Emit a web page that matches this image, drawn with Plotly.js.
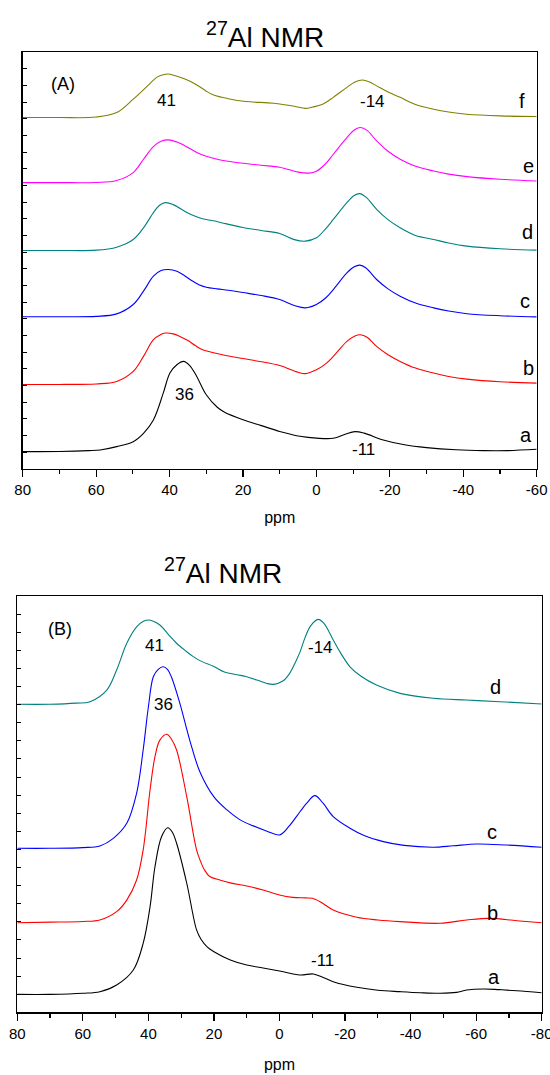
<!DOCTYPE html>
<html>
<head>
<meta charset="utf-8">
<script src="https://cdn.plot.ly/plotly-3.0.1.min.js"></script>
<style>html,body{margin:0;padding:0;background:#fff;}#chart{width:550px;height:1075px;}</style>
</head>
<body>
<div id="chart"></div>
<script>
// ---------- Panel A data (ppm, stacked intensity) ----------
const A_a_ppm = [80,70,62,58.9,54.4,49.9,47.1,44.4,41.7,39.9,38,36.2,34.5,32.6,30,27,25,20,15,10,7,4.5,0,-4.6,-8,-10.5,-13,-18.2,-24,-30,-38,-45.5,-52,-60];
const A_a_val = [1.04,1.05,1.1,1.14,1.34,1.64,2.14,2.94,4.56,5.76,6.25,6.45,6.2,5.55,4.45,3.7,3.4,2.95,2.6,2.25,2.08,1.96,1.85,1.84,2.1,2.24,2.15,1.74,1.45,1.28,1.15,1.1,1.1,1.18];

const A_b_ppm = [80,70,60,54.4,49.9,47.1,44.4,42.5,41.2,39,37.2,35,33,31,28,25,20,15,10,5,3,0,-2.5,-4.6,-8.3,-10.5,-12,-13.8,-16.4,-19.5,-22.8,-27,-31.9,-36,-41,-50,-60];
const A_b_val = [5.07,5.07,5.1,5.25,5.85,6.75,7.75,8.05,8.15,8.1,7.95,7.7,7.4,7.15,6.97,6.82,6.62,6.43,6.2,5.8,5.72,5.95,6.3,6.75,7.65,7.98,8.05,7.9,7.35,6.85,6.45,6.05,5.75,5.55,5.39,5.23,5.15];

const A_c_ppm = [80,70,60,54.4,49.9,47.1,44.4,42.3,40.3,38,36,34,32,30,27,24,20,15,10,6,3,0,-2.5,-4.6,-8.3,-10.3,-11.8,-13.5,-16.4,-19.5,-22.8,-27,-31.9,-36,-41,-50,-60];
const A_c_val = [9.13,9.13,9.15,9.3,9.86,10.66,11.56,11.9,11.96,11.85,11.6,11.3,11.05,10.9,10.8,10.72,10.58,10.4,10.16,9.8,9.66,9.86,10.25,10.76,11.76,12.12,12.22,12.05,11.36,10.8,10.36,9.95,9.66,9.47,9.31,9.19,9.12];

const A_d_ppm = [80,70,60,54.4,49.9,47.1,44.4,42.8,41.2,39,37,35,33,31,28,25,20,15,10,6,3,0,-2.5,-4.6,-8.3,-10.3,-11.8,-13.5,-16.4,-19.5,-22.8,-27,-31.9,-36,-41,-50,-60];
const A_d_val = [13.1,13.1,13.12,13.3,13.76,14.46,15.37,15.8,15.97,15.85,15.6,15.35,15.15,15.0,14.88,14.72,14.48,14.3,14.12,13.75,13.66,13.86,14.4,14.96,15.97,16.4,16.51,16.3,15.57,14.95,14.46,14.0,13.76,13.55,13.36,13.2,13.12];

const A_e_ppm = [80,70,60,54.4,49.9,47.1,44.4,42.3,40.3,38,36,34,32,30,27,24,20,15,10,5,2,0,-2.5,-4.6,-8.3,-10.5,-12,-13.8,-16.4,-19.5,-22.8,-27,-31.9,-36,-41,-50,-60];
const A_e_val = [17.17,17.17,17.18,17.3,17.77,18.57,19.33,19.65,19.73,19.6,19.4,19.15,18.92,18.75,18.57,18.45,18.33,18.21,18.09,17.8,17.74,17.85,18.3,18.87,19.87,20.35,20.47,20.3,19.67,19.05,18.57,18.15,17.87,17.68,17.53,17.37,17.27];

const A_f_ppm = [80,70,60,54.4,49.9,46,43.5,41.5,40.3,38,36,34,32,30,28,24,19.2,11.6,6,3,1,-1.5,-4.6,-8.3,-10.5,-12.5,-14.5,-16.4,-19.5,-22.8,-27,-31.9,-36,-41,-50,-60];
const A_f_val = [21.07,21.07,21.1,21.37,22.17,22.97,23.48,23.65,23.68,23.55,23.4,23.2,22.95,22.65,22.42,22.2,22.03,21.93,21.75,21.62,21.7,21.85,22.28,22.88,23.2,23.32,23.2,22.97,22.6,22.28,21.85,21.57,21.4,21.27,21.17,21.13];

// ---------- Panel B data ----------
const B_a_ppm = [80,70,60,54.8,49.7,44.6,41.6,39.5,38,36,34.1,32.7,31.4,28.3,25.3,24,22,20,15,10,5,0,-6.25,-10.3,-13,-16.4,-23.6,-30,-36.8,-43,-49,-54,-57.1,-62.2,-67,-72.4,-80];
const B_a_val = [0.99,0.99,1.05,1.14,1.51,2.34,3.81,5.83,8.04,9.7,10.2,9.95,9.34,7.13,4.55,4.05,3.6,3.35,2.89,2.61,2.45,2.28,2.06,2.12,1.95,1.69,1.38,1.22,1.14,1.08,1.05,1.1,1.23,1.29,1.25,1.19,1.08];

const B_b_ppm = [80,70,60,54.8,49.7,46.6,43.6,41.6,39.5,38,36.5,34.4,33,31.4,28.3,25.3,24,23,21.3,18,15,10,5,0,-4,-8,-10,-12.4,-16.4,-23.6,-30,-36.8,-49,-57.1,-64.2,-72.4,-80];
const B_b_val = [4.95,4.98,5.02,5.1,5.56,6.2,7.31,8.97,12.28,14.12,15.04,15.36,15.1,14.49,11.91,8.97,8.3,7.9,7.5,7.3,7.15,6.98,6.76,6.48,6.35,6.32,6.3,6.11,5.65,5.25,5.1,5.01,4.92,5.1,5.19,5.06,4.95];

const B_c_ppm = [80,70,60,54.8,50.7,46.6,43.6,41.6,40,38.5,37,35.5,34.2,33,30.4,27.4,24.3,20,16,12,8,4,0,-3,-6.25,-8.3,-10.8,-13.3,-16.4,-21.5,-26,-31.7,-38,-46.9,-53,-60.2,-69.4,-80];
const B_c_val = [9.06,9.06,9.1,9.19,9.61,10.44,12.1,14.49,16.88,18.54,18.95,19.09,18.95,18.54,17.07,15.04,13.29,11.9,11.18,10.63,10.3,10.02,9.8,10.3,11.08,11.55,11.97,11.55,10.81,10.17,9.75,9.43,9.22,9.12,9.2,9.3,9.24,9.12];

const B_d_ppm = [80,70,62,57.8,52.7,49.7,46.6,43.6,41.5,40,38.5,36.5,34,31.4,28.5,26.3,24.3,20,16.8,13,10.3,6,3.9,1.8,-1,-3,-5,-6.25,-7.8,-9.5,-11.8,-13.5,-16.4,-18.5,-21.5,-25,-29.6,-36.8,-46.9,-57.1,-67.3,-80];
const B_d_val = [17.02,17.02,17.08,17.16,17.8,18.91,20.39,21.3,21.6,21.67,21.6,21.4,20.9,20.39,19.95,19.65,19.43,19.1,18.8,18.65,18.55,18.3,18.17,18.12,18.3,18.7,19.4,19.9,20.7,21.35,21.71,21.5,20.57,19.9,19.09,18.55,18.08,17.62,17.35,17.25,17.16,17.03];

// ---------- Labels ----------
const seriesLabels = ['a','b','c','d','e','f'];
const colorsA = ['#000000','#ff0000','#0000ff','#008080','#ff00ff','#808000'];
const colorsB = ['#000000','#ff0000','#0000ff','#008080'];
const panelTitle = '<sup>27</sup>Al NMR';
const axisTitle = 'ppm';
const panelTags = ['(A)','(B)'];
const peakLabels = ['41','36','-14','-11'];
const xTickValsA = [80,60,40,20,0,-20,-40,-60];
const xTickTextA = ['80','60','40','20','0','-20','-40','-60'];
const xTickValsB = [80,60,40,20,0,-20,-40,-60,-80];
const xTickTextB = ['80','60','40','20','0','-20','-40','-60','-80'];

const FONT = '"Liberation Sans", Arial, Helvetica, sans-serif';

const A_ppm = [A_a_ppm,A_b_ppm,A_c_ppm,A_d_ppm,A_e_ppm,A_f_ppm];
const A_val = [A_a_val,A_b_val,A_c_val,A_d_val,A_e_val,A_f_val];
const B_ppm = [B_a_ppm,B_b_ppm,B_c_ppm,B_d_ppm];
const B_val = [B_a_val,B_b_val,B_c_val,B_d_val];

const traces = [];
A_ppm.forEach((p,i)=>traces.push({x:p,y:A_val[i],xaxis:'x',yaxis:'y',mode:'lines',
  line:{color:colorsA[i],width:1.1,shape:'spline',smoothing:1},name:seriesLabels[i],hoverinfo:'skip'}));
B_ppm.forEach((p,i)=>traces.push({x:p,y:B_val[i],xaxis:'x2',yaxis:'y2',mode:'lines',
  line:{color:colorsB[i],width:1.1,shape:'spline',smoothing:1},name:seriesLabels[i],hoverinfo:'skip'}));

function xax(range, domain, anchor, tv, tt, standoff){
  return {range:range, domain:domain, anchor:anchor, showgrid:false, zeroline:false,
    showline:true, linecolor:'#000', linewidth:1.3, mirror:true,
    ticks:'outside', ticklen:7, tickwidth:1.2, tickcolor:'#000',
    tickmode:'array', tickvals:tv, ticktext:tt, ticklabeloverflow:'allow',
    minor:{tickmode:'linear', tick0:0, dtick:10, ticks:'outside', ticklen:4, tickwidth:1.2, tickcolor:'#000'},
    tickfont:{family:FONT,size:15,color:'#000'},
    title:{text:axisTitle, font:{family:FONT,size:16,color:'#000'}, standoff:standoff}};
}
function yax(range, domain, anchor){
  return {range:range, domain:domain, anchor:anchor, showgrid:false, zeroline:false,
    showline:true, linecolor:'#000', linewidth:1.3, mirror:true,
    ticks:'inside', ticklen:4, tickwidth:1, tickcolor:'#000', tick0:0, dtick:1,
    showticklabels:false};
}

const ann = [];
function txt(x,y,t,size,xref,yref){ann.push({x:x,y:y,text:t,xref:xref,yref:yref,showarrow:false,
  font:{family:FONT,size:size,color:'#000'},xanchor:'center',yanchor:'middle'});}
// titles
txt(0.482,0.9674,panelTitle,28,'paper','paper');
txt(0.4055,0.4688,panelTitle,28,'paper','paper');
// panel A labels
txt(69,23.08,panelTags[0],18,'x','y');
txt(40.8,22.07,peakLabels[0],17,'x','y');
txt(35.8,4.45,peakLabels[1],17,'x','y');
txt(-15.3,22.01,peakLabels[2],17,'x','y');
txt(-12.8,1.18,peakLabels[3],17,'x','y');
const A_lblX = [-57.1,-57.7,-56.8,-57.6,-57.7,-55.9];
const A_lblY = [2.04,6.05,10.05,14.2,18.17,22.07];
seriesLabels.forEach((s,i)=>txt(A_lblX[i],A_lblY[i],s,20,'x','y'));
// panel B labels
txt(67,21.16,panelTags[1],18,'x2','y2');
txt(38.2,20.29,peakLabels[0],17,'x2','y2');
txt(35.5,17.03,peakLabels[1],17,'x2','y2');
txt(-12.6,20.17,peakLabels[2],17,'x2','y2');
txt(-13.2,2.85,peakLabels[3],17,'x2','y2');
const B_lblX = [-65.4,-65.05,-64.7,-65.8];
const B_lblY = [1.97,5.47,9.98,17.99];
seriesLabels.slice(0,4).forEach((s,i)=>txt(B_lblX[i],B_lblY[i],s,20,'x2','y2'));

const layout = {
  width:550, height:1075, margin:{l:0,r:0,t:0,b:0}, showlegend:false,
  paper_bgcolor:'#fff', plot_bgcolor:'#fff', font:{family:FONT,color:'#000'},
  xaxis: xax([80,-60],[22.7/550,536.7/550],'y',xTickValsA,xTickTextA,14),
  yaxis: yax([0,25],[(1075-469)/1075,(1075-52)/1075],'x'),
  xaxis2: xax([80,-80],[17.3/550,541.7/550],'y2',xTickValsB,xTickTextB,18),
  yaxis2: yax([0,23],[(1075-1012.3)/1075,(1075-596)/1075],'x2'),
  annotations: ann
};
Plotly.newPlot('chart', traces, layout, {staticPlot:true, displayModeBar:false});
</script>
</body>
</html>
